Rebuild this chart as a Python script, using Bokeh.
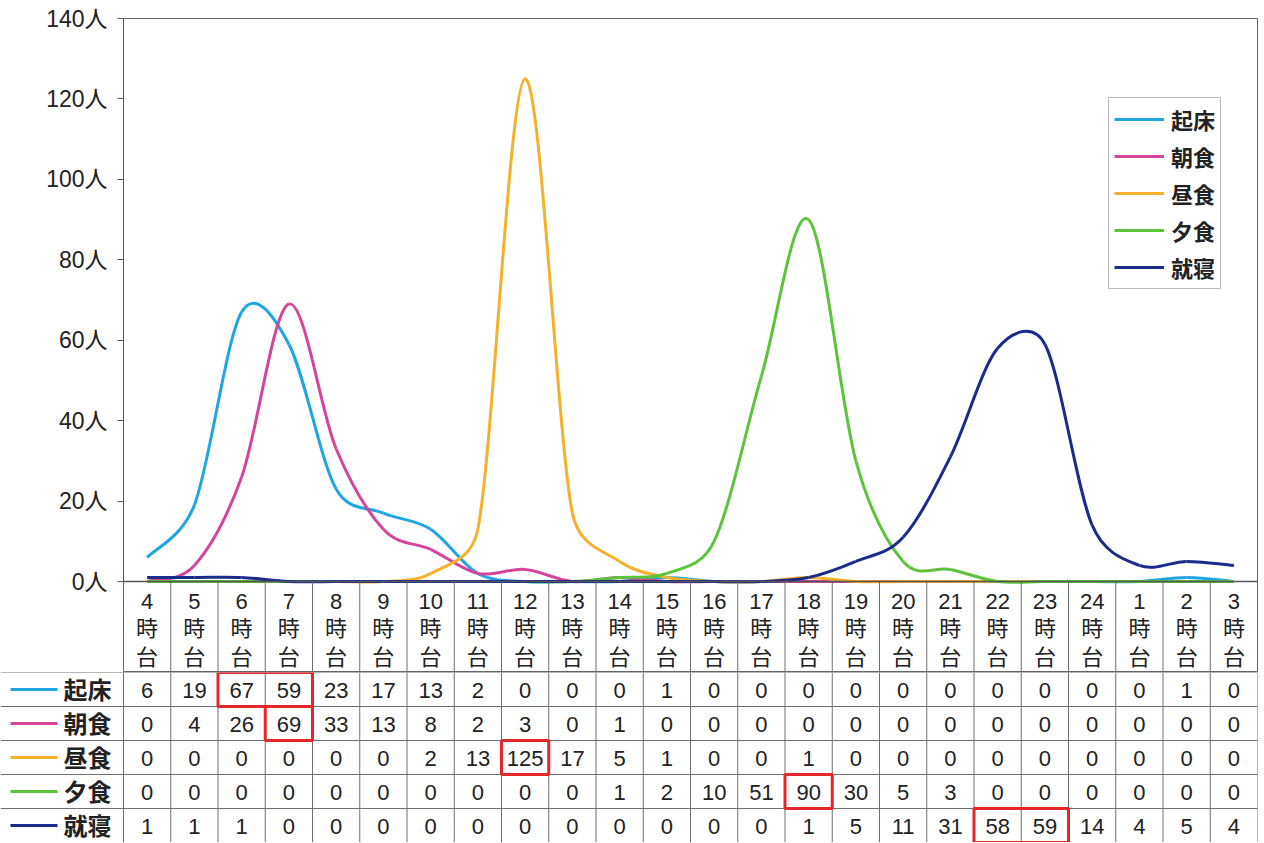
import math
from bokeh.plotting import figure
from bokeh.layouts import column
from bokeh.models import Range1d, FixedTicker, Legend, LegendItem, ColumnDataSource, Span
from bokeh.core.properties import value
from bokeh.embed import file_html
from bokeh.resources import INLINE

# ---------------- data ----------------
hours = ["4", "5", "6", "7", "8", "9", "10", "11", "12", "13", "14", "15",
         "16", "17", "18", "19", "20", "21", "22", "23", "24", "1", "2", "3"]
names = ["起床", "朝食", "昼食", "夕食", "就寝"]
wake = [6, 19, 67, 59, 23, 17, 13, 2, 0, 0, 0, 1, 0, 0, 0, 0, 0, 0, 0, 0, 0, 0, 1, 0]
breakfast = [0, 4, 26, 69, 33, 13, 8, 2, 3, 0, 1, 0, 0, 0, 0, 0, 0, 0, 0, 0, 0, 0, 0, 0]
lunch = [0, 0, 0, 0, 0, 0, 2, 13, 125, 17, 5, 1, 0, 0, 1, 0, 0, 0, 0, 0, 0, 0, 0, 0]
dinner = [0, 0, 0, 0, 0, 0, 0, 0, 0, 0, 1, 2, 10, 51, 90, 30, 5, 3, 0, 0, 0, 0, 0, 0]
sleep = [1, 1, 1, 0, 0, 0, 0, 0, 0, 0, 0, 0, 0, 0, 1, 5, 11, 31, 58, 59, 14, 4, 5, 4]
series = [wake, breakfast, lunch, dinner, sleep]
y_ticks = [0, 20, 40, 60, 80, 100, 120, 140]
# highlighted (peak) cells: series name, hour labels
highlights = [("起床", ["6", "7"]), ("朝食", ["7"]), ("昼食", ["12"]),
              ("夕食", ["18"]), ("就寝", ["22", "23"])]

# ---------------- style ----------------
colors = ["#1FA6E0", "#D2459A", "#F6B02C", "#5CC43A", "#1B2B8C"]
FONT_S = "Liberation Sans, Noto Sans CJK JP"
FONT = value(FONT_S)
TXT = "#222222"
GRID = "#6f6f6f"

W = 1264
BL = 123          # left border of chart (axis area)
BR = 7
FRAME_W = W - BL - BR
COLW = FRAME_W / 24.0
CH_TOP = 18
PLOT_PX = 563
PXU = PLOT_PX / 140.0
HEADER_PX = 91
CH_H = CH_TOP + PLOT_PX + HEADER_PX
TH = 170
ROW_H = 34.0

# ---------------- chart ----------------
chart = figure(width=W, height=CH_H,
               x_range=Range1d(-0.5, 23.5),
               y_range=Range1d(-HEADER_PX / PXU, 140),
               x_axis_location=None, output_backend="svg", toolbar_location=None,
               min_border_left=BL, min_border_right=BR, min_border_top=CH_TOP,
               min_border_bottom=0, frame_align=False)
chart.grid.visible = False
chart.outline_line_color = "#666666"
chart.outline_line_width = 1
chart.background_fill_color = "white"
chart.border_fill_color = "white"

yax = chart.yaxis[0]
yax.ticker = FixedTicker(ticks=y_ticks)
yax.bounds = (0, 140)
yax.major_label_overrides = {t: f"{t}人" for t in y_ticks}
yax.major_label_text_font = FONT_S
yax.major_label_text_font_size = "23px"
yax.major_label_text_color = TXT
yax.axis_line_color = "#555555"
yax.major_tick_line_color = "#555555"
yax.major_tick_out = 6
yax.major_tick_in = 0
yax.minor_tick_out = 0
yax.minor_tick_in = 0
yax.major_label_standoff = 10

chart.add_layout(Span(location=0, dimension="width", line_color="#555555", line_width=1.5))


# smoothed curves: Bezier through each data point, tangents from neighbours,
# arm length limited relative to the segment length (in screen pixels)
def limit(dx, dy, seg):
    L = math.hypot(dx * COLW, dy * PXU)
    m = 0.5 * seg
    if L > m and L > 0:
        f = m / L
        return dx * f, dy * f
    return dx, dy


renderers = []
for ys, c in zip(series, colors):
    n = len(ys)
    d = dict(x0=[], y0=[], x1=[], y1=[], cx0=[], cy0=[], cx1=[], cy1=[])
    for i in range(n - 1):
        pm = max(i - 1, 0)
        pp = min(i + 2, n - 1)
        seg = math.hypot(COLW, (ys[i + 1] - ys[i]) * PXU)
        ax, ay = limit((i + 1 - pm) / 6.0, (ys[i + 1] - ys[pm]) / 6.0, seg)
        bx, by = limit((pp - i) / 6.0, (ys[pp] - ys[i]) / 6.0, seg)
        d["x0"].append(i); d["y0"].append(ys[i])
        d["x1"].append(i + 1); d["y1"].append(ys[i + 1])
        d["cx0"].append(i + ax); d["cy0"].append(ys[i] + ay)
        d["cx1"].append(i + 1 - bx); d["cy1"].append(ys[i + 1] - by)
    r = chart.bezier(x0="x0", y0="y0", x1="x1", y1="y1", cx0="cx0", cy0="cy0",
                     cx1="cx1", cy1="cy1", source=ColumnDataSource(d),
                     line_color=c, line_width=3)
    renderers.append(r)

legend = Legend(items=[LegendItem(label=nm, renderers=[r]) for nm, r in zip(names, renderers)],
                location=(985, 383))
legend.label_text_font = FONT_S
legend.label_text_font_size = "22px"
legend.label_text_font_style = "bold"
legend.label_text_color = TXT
legend.glyph_width = 50
legend.glyph_height = 26
legend.label_height = 26
legend.spacing = 5
legend.padding = 5
legend.margin = 0
legend.label_standoff = 7
legend.border_line_color = "#777777"
legend.border_line_width = 1
legend.background_fill_alpha = 1
chart.add_layout(legend)

# table header (hour labels) inside the chart frame, below zero
xs = list(range(24))
hdr_y = [20, 47, 76]
for txt, py in zip([hours, ["時"] * 24, ["台"] * 24], hdr_y):
    chart.text(x=xs, y=[-py / PXU] * 24, text=txt,
               text_font=FONT, text_font_size="22px",
               text_color=TXT, text_align="center", text_baseline="middle")
chart.segment(x0=[i - 0.5 for i in range(1, 24)], y0=[-HEADER_PX / PXU] * 23,
              x1=[i - 0.5 for i in range(1, 24)], y1=[0] * 23,
              line_color=GRID, line_width=1)

# ---------------- table ----------------
XL = 23.5 - (W - BR) / COLW
table = figure(width=W, height=TH, x_range=Range1d(XL, 23.5), y_range=Range1d(TH, 0),
               x_axis_location=None, y_axis_location=None, output_backend="svg",
               toolbar_location=None, min_border_left=0, min_border_right=BR,
               min_border_top=0, min_border_bottom=0, frame_align=False)
table.grid.visible = False
table.outline_line_color = None

ylines = [k * ROW_H for k in range(6)]
table.segment(x0=[XL] * 6, y0=ylines, x1=[23.5] * 6, y1=ylines, line_color=GRID, line_width=1.2)
table.segment(x0=[i - 0.5 for i in range(25)], y0=[0] * 25,
              x1=[i - 0.5 for i in range(25)], y1=[5 * ROW_H] * 25,
              line_color=GRID, line_width=1)

for k, (nm, ys, c) in enumerate(zip(names, series, colors)):
    ym = k * ROW_H + ROW_H / 2
    table.text(x=xs, y=[ym + 1] * 24, text=[str(v) for v in ys],
               text_font=FONT, text_font_size="22px",
               text_color=TXT, text_align="center", text_baseline="middle")
    table.segment(x0=[XL + 10 / COLW], y0=[ym], x1=[XL + 57 / COLW], y1=[ym],
                  line_color=c, line_width=3)
    table.text(x=[XL + 63 / COLW], y=[ym + 1], text=[nm], text_font=FONT,
               text_font_size="24px", text_font_style="bold", text_color=TXT,
               text_align="left", text_baseline="middle")

for nm, hs in highlights:
    k = names.index(nm)
    idx = [hours.index(h) for h in hs]
    table.quad(left=[min(idx) - 0.5], right=[max(idx) + 0.5],
               top=[k * ROW_H], bottom=[(k + 1) * ROW_H],
               fill_alpha=0, line_color="#E5262A", line_width=3)

layout = column(chart, table, spacing=0)
open("out.html", "w").write(file_html(layout, INLINE))
